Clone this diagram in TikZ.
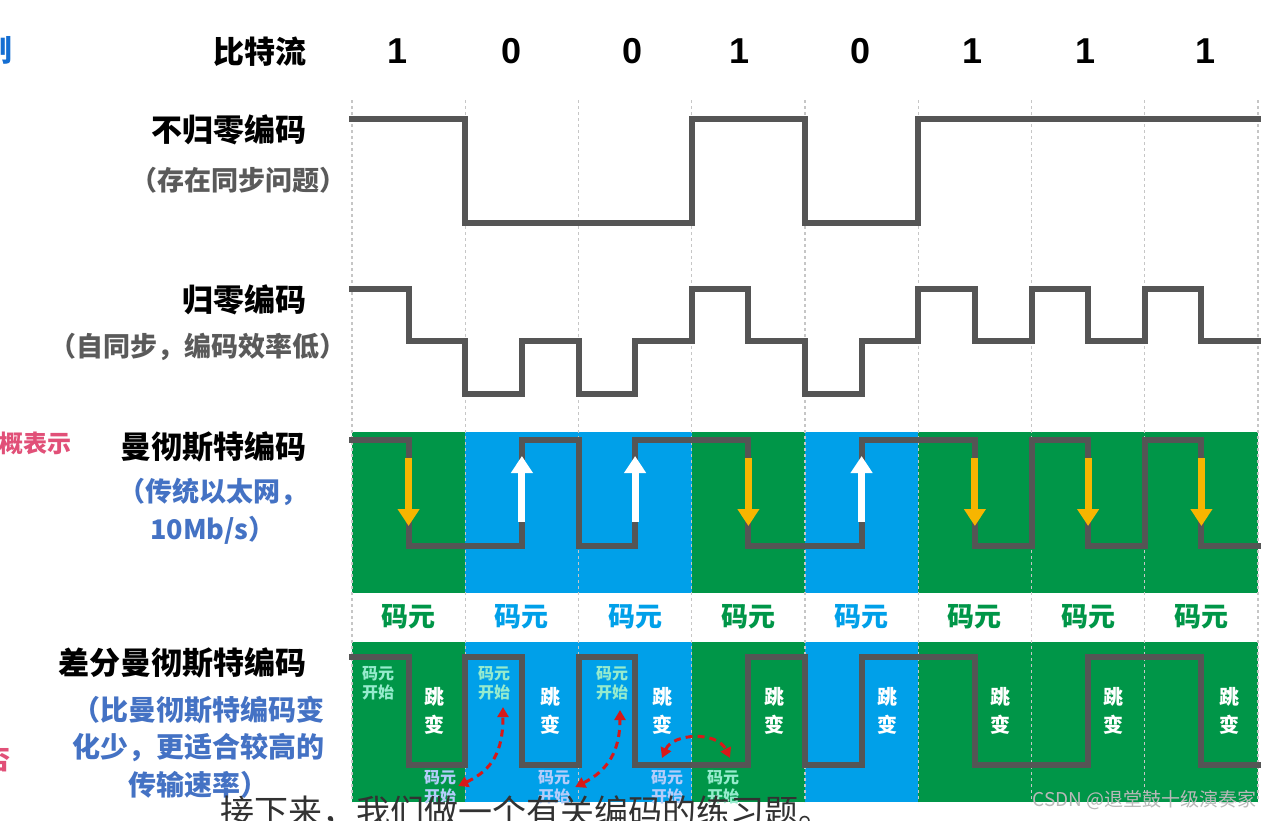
\documentclass[tikz,border=0pt]{standalone}
\usepackage{fontspec}
\setmainfont{Liberation Sans}
\newfontfamily\cjk{Noto Sans CJK SC}
\usetikzlibrary{arrows.meta,calc}
\definecolor{sigc}{RGB}{85,85,85}
\definecolor{grn}{RGB}{0,150,72}
\definecolor{blu}{RGB}{0,160,233}
\definecolor{txtgray}{RGB}{90,90,90}
\definecolor{txtblue}{RGB}{68,114,196}
\definecolor{arrorange}{RGB}{247,181,0}
\definecolor{arrred}{RGB}{215,25,25}
\definecolor{mint}{RGB}{150,235,205}
\definecolor{lblue}{RGB}{180,205,250}
\definecolor{pinktxt}{RGB}{225,80,120}
\definecolor{headblue}{RGB}{20,110,210}
\definecolor{subc}{RGB}{50,50,50}
\definecolor{wmc}{RGB}{185,185,185}
\begin{document}
\begin{tikzpicture}[x=1pt,y=-1pt,
  lblk/.style={font=\cjk\bfseries\fontsize{31}{33}\selectfont, text=black, inner sep=0pt, anchor=east},
  lblg/.style={font=\cjk\bfseries\fontsize{27}{29}\selectfont, text=txtgray, inner sep=0pt, anchor=east},
  lblb/.style={font=\cjk\bfseries\fontsize{27}{38}\selectfont, text=txtblue, inner sep=0pt, align=center},
  bitlbl/.style={font=\bfseries\fontsize{36}{40}\selectfont, inner sep=0pt},
  sigline/.style={draw=sigc, line width=6pt, line join=miter, line cap=rect},
  bitdash/.style={draw=gray!45, line width=1.2pt, dash pattern=on 3pt off 3pt},
  cwlbl/.style={font=\cjk\bfseries\fontsize{27}{30}\selectfont, inner sep=0pt},
  jumplbl/.style={font=\cjk\bfseries\fontsize{20}{28}\selectfont, text=white, inner sep=0pt, align=center},
  startlbl/.style={font=\cjk\bfseries\fontsize{16}{19}\selectfont, inner sep=0pt, align=center},
  downarr/.style={draw=arrorange, line width=7pt, -{Triangle[width=21pt,length=17pt]}},
  uparr/.style={draw=white, line width=7pt, -{Triangle[width=21pt,length=17pt]}},
  redarr/.style={draw=arrred, line width=3pt, dash pattern=on 7pt off 5pt, {Triangle[width=11pt,length=10pt]}-{Triangle[width=11pt,length=10pt]}},
]
\useasboundingbox (0,0) rectangle (1271,820);
\fill[white] (0,0) rectangle (1271,820);

% cut-off labels at the left edge
\node[font=\cjk\bfseries\fontsize{30}{32}\selectfont, text=headblue, inner sep=0pt, anchor=east] (cutA) at (13,50) {制};
\node[font=\cjk\bfseries\fontsize{24}{26}\selectfont, text=pinktxt, inner sep=0pt, anchor=east] (cutB) at (72,443) {概表示};
\node[font=\cjk\bfseries\fontsize{26}{28}\selectfont, text=pinktxt, inner sep=0pt, anchor=east] (cutC) at (11,760) {否};

% coloured bit blocks
\foreach \x/\c in {352/grn,465.25/blu,578.5/blu,691.75/grn,805/blu,918.25/grn,1031.5/grn,1144.75/grn}{
  \fill[\c] (\x,432) rectangle ++(113.25,161);
}
\foreach \x/\c in {352/grn,465.25/blu,578.5/blu,691.75/grn,805/blu,918.25/grn,1031.5/grn,1144.75/grn}{
  \fill[\c] (\x,642) rectangle ++(113.25,160);
}

% dashed bit boundaries
\foreach \x in {352,465.25,578.5,691.75,805,918.25,1031.5,1144.75,1258}{
  \draw[bitdash] (\x,100) -- (\x,802);
}

% header row
\node[lblk, anchor=center] (hdr) at (260,52) {比特流};
\foreach \x/\b [count=\i] in {398/1,512/0,633/0,740/1,860/0,972/1,1085/1,1205/1}{
  \node[bitlbl] (bit\i) at (\x,51) {\b};
}

% row labels
\node[lblk] (nrz) at (307,130) {不归零编码};
\node[lblg] (nrzs) at (347,180) {（存在同步问题）};
\node[lblk] (rz) at (307,300) {归零编码};
\node[lblg] (rzs) at (347,347) {（自同步，编码效率低）};
\node[lblk] (man) at (307,447) {曼彻斯特编码};
\node[lblb] (mans) at (213,511) {（传统以太网，\\10Mb/s）};
\node[lblk] (dman) at (307,663) {差分曼彻斯特编码};
\node[lblb, font=\cjk\bfseries\fontsize{28}{37.5}\selectfont] (dmans) at (198,747) {（比曼彻斯特编码变\\化少，更适合较高的\\传输速率）};

% NRZ
\draw[sigline] (352,119) -- (465.25,119) -- (465.25,223) -- (691.75,223) -- (691.75,119)
  -- (805,119) -- (805,223) -- (918.25,223) -- (918.25,119) -- (1258,119);

% RZ
\draw[sigline] (352,289) -- (408.6,289) -- (408.6,341) -- (465.25,341) -- (465.25,394) -- (521.9,394)
  -- (521.9,341) -- (578.5,341) -- (578.5,394) -- (635.1,394) -- (635.1,341) -- (691.75,341)
  -- (691.75,289) -- (748.4,289) -- (748.4,341) -- (805,341) -- (805,394) -- (861.6,394)
  -- (861.6,341) -- (918.25,341) -- (918.25,289) -- (974.9,289) -- (974.9,341) -- (1031.5,341)
  -- (1031.5,289) -- (1088.1,289) -- (1088.1,341) -- (1144.75,341) -- (1144.75,289)
  -- (1201.4,289) -- (1201.4,341) -- (1258,341);

% Manchester
\draw[sigline] (352,440) -- (408.6,440) -- (408.6,546) -- (521.9,546) -- (521.9,440) -- (578.5,440)
  -- (578.5,546) -- (635.1,546) -- (635.1,440) -- (748.4,440) -- (748.4,546) -- (861.6,546)
  -- (861.6,440) -- (974.9,440) -- (974.9,546) -- (1031.5,546) -- (1031.5,440) -- (1088.1,440)
  -- (1088.1,546) -- (1144.75,546) -- (1144.75,440) -- (1201.4,440) -- (1201.4,546) -- (1258,546);
\foreach \x in {408.6,748.4,974.9,1088.1,1201.4}{
  \draw[downarr] (\x,458) -- (\x,526);
}
\foreach \x in {521.9,635.1,861.6}{
  \draw[uparr] (\x,522) -- (\x,456);
}
\foreach \x/\c [count=\i] in {408.6/grn,521.9/blu,635.1/blu,748.4/grn,861.6/blu,974.9/grn,1088.1/grn,1201.4/grn}{
  \node[cwlbl, text=\c] (cw\i) at (\x,617) {码元};
}

% differential Manchester
\draw[sigline] (352,657) -- (408.6,657) -- (408.6,765) -- (465.25,765) -- (465.25,657) -- (521.9,657)
  -- (521.9,765) -- (578.5,765) -- (578.5,657) -- (635.1,657) -- (635.1,765) -- (748.4,765)
  -- (748.4,657) -- (805,657) -- (805,765) -- (861.6,765) -- (861.6,657) -- (974.9,657)
  -- (974.9,765) -- (1088.1,765) -- (1088.1,657) -- (1201.4,657) -- (1201.4,765) -- (1258,765);
\foreach \x [count=\i] in {434,550,662,774,887,1000,1113,1229}{
  \node[jumplbl] (jmp\i) at (\x,711) {跳\\变};
}
\node[startlbl, text=mint] (ts1) at (378,683) {码元\\开始};
\node[startlbl, text=mint] (ts2) at (494,683) {码元\\开始};
\node[startlbl, text=mint] (ts3) at (612,683) {码元\\开始};
\node[startlbl, text=lblue] (bs1) at (440,787) {码元\\开始};
\node[startlbl, text=lblue] (bs2) at (554,787) {码元\\开始};
\node[startlbl, text=lblue] (bs3) at (667,787) {码元\\开始};
\node[startlbl, text=mint] (bs4) at (723,787) {码元\\开始};

% red dashed arrows
\draw[redarr] ($(bs1.east)+(2,-1)$) .. controls (492,770) and (503,752) .. ($(ts2.south)+(9,7)$);
\draw[redarr] ($(bs2.east)+(5,0)$) .. controls (607,771) and (620,752) .. ($(ts3.south)+(8,10)$);
\draw[redarr] ($(bs3.north)+(-5,-12)$) .. controls (673,733) and (717,731) .. ($(bs4.north)+(7,-12)$);

% subtitle and watermark
\node[font=\cjk\fontsize{34}{36}\selectfont, text=subc, inner sep=0pt] (subt) at (526,812)
  {接下来，我们做一个有关编码的练习题。};
\node[font=\cjk\fontsize{19}{21}\selectfont, text=wmc, inner sep=0pt, anchor=east] (wm) at (1257,800)
  {CSDN @退堂鼓十级演奏家};
\end{tikzpicture}
\end{document}
